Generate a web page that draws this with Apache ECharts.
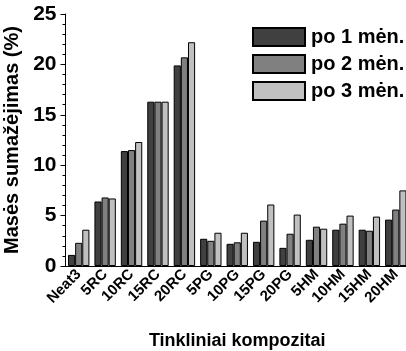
<!DOCTYPE html>
<html>
<head>
<meta charset="utf-8">
<script src="https://cdn.jsdelivr.net/npm/echarts@6/dist/echarts.min.js"></script>
<style>
html,body{margin:0;padding:0;background:#fff;}
#c{width:406px;height:351px;}
</style>
</head>
<body>
<div id="c"></div>
<script>
const categories = ['Neat3','5RC','10RC','15RC','20RC','5PG','10PG','15PG','20PG','5HM','10HM','15HM','20HM'];
const seriesNames = ['po 1 mėn.','po 2 mėn.','po 3 mėn.'];
const month1 = [1.1, 6.4, 11.4, 16.3, 19.9, 2.7, 2.2, 2.4, 1.8, 2.6, 3.6, 3.6, 4.6];
const month2 = [2.3, 6.8, 11.5, 16.3, 20.7, 2.5, 2.35, 4.5, 3.2, 3.9, 4.2, 3.5, 5.6];
const month3 = [3.6, 6.7, 12.3, 16.3, 22.2, 3.3, 3.3, 6.1, 5.1, 3.7, 5.0, 4.9, 7.5];
const colors = ['#404040','#808080','#c0c0c0'];
const FONT = 'Liberation Sans, Arial, sans-serif';

const chart = echarts.init(document.getElementById('c'), null, {renderer:'canvas'});
const data = [month1, month2, month3];
chart.setOption({
  animation:false,
  backgroundColor:'#fff',
  grid:{left:65.5, top:14, width:343.5, height:252, containLabel:false, outerBoundsMode:'none'},
  legend:{
    orient:'vertical', left:252, top:27, padding:0,
    itemWidth:52, itemHeight:18, itemGap:7,
    icon:'rect',
    textStyle:{fontFamily:FONT, fontWeight:'bold', fontSize:20, lineHeight:18, color:'#000', padding:[0,0,0,1]},
    data:seriesNames
  },
  xAxis:{
    type:'category', data:categories,
    name:'Tinkliniai kompozitai', nameLocation:'middle', nameGap:66,
    nameTextStyle:{fontFamily:FONT, fontWeight:'bold', fontSize:18, color:'#000'},
    axisLine:{lineStyle:{color:'#000', width:1}},
    axisTick:{alignWithLabel:true, length:4, lineStyle:{color:'#000'}},
    axisLabel:{rotate:45, interval:0, margin:6, fontFamily:FONT, fontWeight:'bold', fontSize:15, color:'#000'}
  },
  yAxis:{
    type:'value', min:0, max:25, interval:5,
    name:'Masės sumažėjimas (%)', nameLocation:'middle', nameGap:41,
    nameTextStyle:{fontFamily:FONT, fontWeight:'bold', fontSize:20, color:'#000'},
    axisLine:{show:true, lineStyle:{color:'#000', width:1}},
    axisTick:{show:true, length:5, lineStyle:{color:'#000'}},
    minorTick:{show:true, splitNumber:5, length:3, lineStyle:{color:'#000'}},
    splitLine:{show:false},
    axisLabel:{margin:9, fontFamily:FONT, fontWeight:'bold', fontSize:21, color:'#000'}
  },
  series: seriesNames.map((n,i)=>({
    name:n, type:'bar', data:data[i],
    barGap:'0%', barCategoryGap:'19%',
    itemStyle:{color:colors[i], borderColor:'#000', borderWidth:1}
  }))
});
</script>
</body>
</html>
